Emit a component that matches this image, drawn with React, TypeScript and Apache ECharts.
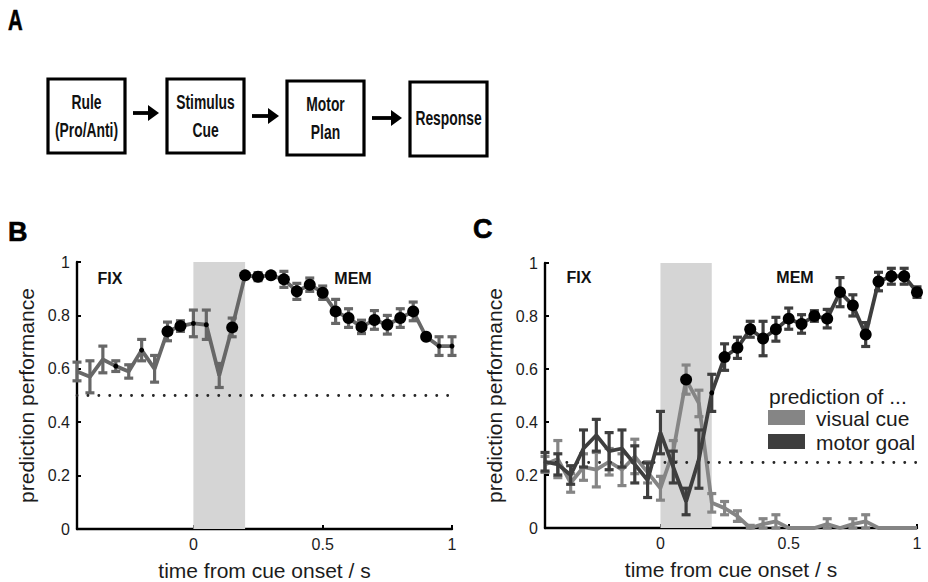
import React, { useEffect, useRef } from "react";
import * as echarts from "echarts";

// ---------- data ----------
const times = [-0.45, -0.4, -0.35, -0.3, -0.25, -0.2, -0.15, -0.1, -0.05, 0, 0.05, 0.1, 0.15, 0.2, 0.25, 0.3, 0.35, 0.4, 0.45, 0.5, 0.55, 0.6, 0.65, 0.7, 0.75, 0.8, 0.85, 0.9, 0.95, 1.0];

// Panel B: rule prediction
const perfB = [0.59, 0.57, 0.635, 0.61, 0.59, 0.67, 0.6, 0.74, 0.76, 0.77, 0.765, 0.575, 0.755, 0.95, 0.945, 0.95, 0.935, 0.89, 0.915, 0.885, 0.815, 0.79, 0.757, 0.783, 0.765, 0.79, 0.815, 0.72, 0.685, 0.685];
const errB = [0.035, 0.06, 0.05, 0.02, 0.025, 0.04, 0.05, 0.035, 0.02, 0.05, 0.055, 0.045, 0.035, 0.0, 0.015, 0.01, 0.03, 0.03, 0.025, 0.025, 0.045, 0.035, 0.025, 0.035, 0.035, 0.035, 0.035, 0.0, 0.035, 0.035];
const sigB = [0, 0, 0, 1, 0, 1, 0, 2, 2, 1, 1, 0, 2, 2, 2, 2, 2, 2, 2, 2, 2, 2, 2, 2, 2, 2, 2, 2, 1, 1];

// Panel C: visual cue vs motor goal prediction
const visualC = [0.24, 0.26, 0.17, 0.23, 0.22, 0.25, 0.22, 0.27, 0.21, 0.15, 0.29, 0.56, 0.47, 0.095, 0.075, 0.045, 0.0, 0.015, 0.025, 0.0, 0.0, 0.0, 0.015, 0.0, 0.015, 0.025, 0.0, 0.0, 0.0, 0.0];
const errVisual = [0.03, 0.07, 0.035, 0.05, 0.065, 0.05, 0.06, 0.065, 0.04, 0.045, 0.04, 0.055, 0.05, 0.035, 0.025, 0.02, 0.01, 0.02, 0.025, 0, 0, 0, 0.02, 0, 0.02, 0.025, 0, 0, 0, 0];
const sigVisual = [0, 0, 0, 0, 0, 0, 0, 0, 0, 0, 0, 2, 0, 0, 0, 0, 0, 0, 0, 0, 0, 0, 0, 0, 0, 0, 0, 0, 0, 0];

const motorC = [0.25, 0.24, 0.2, 0.3, 0.35, 0.29, 0.3, 0.24, 0.18, 0.36, 0.23, 0.1, 0.26, 0.51, 0.645, 0.68, 0.75, 0.715, 0.75, 0.79, 0.77, 0.8, 0.79, 0.89, 0.84, 0.73, 0.93, 0.95, 0.95, 0.89];
const errMotor = [0.035, 0.04, 0.035, 0.07, 0.06, 0.07, 0.07, 0.07, 0.065, 0.08, 0.06, 0.05, 0.11, 0.07, 0.05, 0.04, 0.03, 0.065, 0.045, 0.04, 0.035, 0.02, 0.035, 0.055, 0.04, 0.045, 0.035, 0.03, 0.03, 0.02];
const sigMotor = [0, 0, 0, 0, 0, 0, 0, 0, 0, 0, 0, 0, 0, 1, 2, 2, 2, 2, 2, 2, 2, 2, 2, 2, 2, 2, 2, 2, 2, 2];

const chanceB = 0.5;
const chanceC = 0.25;
const cueWindow = [0, 0.2];
const xTickValues = [0, 0.5, 1];
const epochLabels = ["FIX", "CUE", "MEM"];
const flowSteps = [["Rule", "(Pro/Anti)"], ["Stimulus", "Cue"], ["Motor", "Plan"], ["Response"]];
const legendTitle = "prediction of ...";
const legendNames = ["visual cue", "motor goal"];

// ---------- style ----------
const FONT = '"Liberation Sans", Arial, Helvetica, sans-serif';
const TXT = "#1c1c1c";
const colB = "#676767";
const colVisual = "#858585";
const colMotor = "#3e3e3e";
const dotSizes = [0, 5, 12];

const errRender = (color: string) => (params: any, api: any) => {
  const x = api.value(0);
  const lo = api.value(1);
  const hi = api.value(2);
  if (hi - lo < 1e-6) return { type: "group", children: [] };
  const top = api.coord([x, hi]);
  const bot = api.coord([x, lo]);
  const w = 4.5;
  const style = { stroke: color, lineWidth: 3.2 };
  return {
    type: "group",
    children: [
      { type: "line", shape: { x1: top[0], y1: top[1], x2: bot[0], y2: bot[1] }, style },
      { type: "line", shape: { x1: top[0] - w, y1: top[1], x2: top[0] + w, y2: top[1] }, style },
      { type: "line", shape: { x1: bot[0] - w, y1: bot[1], x2: bot[0] + w, y2: bot[1] }, style },
    ],
  };
};

const errData = (vals: number[], errs: number[]) =>
  times.map((t, i) => [t, Math.max(0, vals[i] - errs[i]), Math.min(1, vals[i] + errs[i])]);

const lineData = (vals: number[], sig: number[]) =>
  times.map((t, i) => ({
    value: [t, vals[i]],
    symbol: sig[i] === 0 ? "none" : "circle",
    symbolSize: dotSizes[sig[i]],
  }));

const makeAxisX = (gridIndex: number) => ({
  type: "value",
  gridIndex,
  min: -0.45,
  max: 1,
  splitLine: { show: false },
  axisLine: { onZero: false, lineStyle: { color: "#000", width: 2.4 } },
  axisTick: { inside: true, length: 4, customValues: xTickValues, lineStyle: { color: "#000", width: 2 } },
  axisLabel: { customValues: xTickValues, fontSize: 16, color: TXT, margin: 7, fontFamily: FONT, formatter: (v: number) => String(v) },
  name: "time from cue onset / s",
  nameLocation: "middle",
  nameGap: 31,
  nameTextStyle: { fontSize: 21, color: TXT, fontFamily: FONT },
});

const makeAxisY = (gridIndex: number) => ({
  type: "value",
  gridIndex,
  min: 0,
  max: 1,
  interval: 0.2,
  splitLine: { show: false },
  axisLine: { onZero: false, lineStyle: { color: "#000", width: 2.4 } },
  axisTick: { inside: true, length: 4, lineStyle: { color: "#000", width: 2 } },
  axisLabel: { fontSize: 16, color: TXT, margin: 7, fontFamily: FONT },
  name: "prediction performance",
  nameLocation: "middle",
  nameGap: 40,
  nameTextStyle: { fontSize: 21, color: TXT, fontFamily: FONT },
});

const shading = {
  silent: true,
  itemStyle: { color: "#d5d5d5" },
  data: [[{ xAxis: cueWindow[0] }, { xAxis: cueWindow[1] }]],
};

const chanceLine = (y: number) => ({
  silent: true,
  symbol: ["none", "none"],
  label: { show: false },
  lineStyle: { color: "#262626", width: 2.8, type: [0.1, 10.8], cap: "round" },
  data: [{ yAxis: y }],
});

const lineSeries = (name: string, idx: number, vals: number[], sig: number[], color: string) => ({
  name,
  type: "line",
  xAxisIndex: idx,
  yAxisIndex: idx,
  data: lineData(vals, sig),
  showSymbol: true,
  showAllSymbol: true,
  lineStyle: { color, width: 3.8 },
  itemStyle: { color: "#000" },
  emphasis: { disabled: true },
  z: 4,
});

const errSeries = (idx: number, vals: number[], errs: number[], color: string, extra: any = {}) => ({
  type: "custom",
  xAxisIndex: idx,
  yAxisIndex: idx,
  renderItem: errRender(color),
  encode: { x: 0, y: [1, 2] },
  data: errData(vals, errs),
  silent: true,
  z: 3,
  ...extra,
});

// ---------- graphic (panel A, letters, annotations, legend) ----------
const boxX = [48, 167, 287, 410];
const boxY = [79, 79, 81, 82];
const boxW = 77;
const boxH = 74;
const arrowY = [113, 116, 118];

function buildGraphic() {
  const g: any[] = [];
  const letter = (t: string, x: number, y: number, sx = 1, fs = 27) =>
    g.push({ type: "text", x, y, scaleX: sx, style: { text: t, fill: "#000", fontSize: fs, fontWeight: 900, fontFamily: FONT, align: "left", verticalAlign: "middle", stroke: "#000", lineWidth: 0.6 } });
  letter("A", 8, 20, 0.7, 29);
  letter("B", 8, 232);
  letter("C", 473, 229);

  flowSteps.forEach((lines, i) => {
    g.push({ type: "rect", shape: { x: boxX[i], y: boxY[i], width: boxW, height: boxH }, style: { fill: "#fff", stroke: "#000", lineWidth: 3.2 } });
    const cx = boxX[i] + boxW / 2;
    const ys = lines.length === 1 ? [boxY[i] + 36] : [boxY[i] + 23, boxY[i] + 51];
    lines.forEach((ln, j) => {
      g.push({ type: "text", x: cx, y: ys[j], scaleX: 0.66, style: { text: ln, fill: "#111", fontSize: 21, fontWeight: "bold", fontFamily: FONT, align: "center", verticalAlign: "middle" } });
    });
    if (i < flowSteps.length - 1) {
      const x1 = boxX[i] + boxW + 8;
      const x2 = boxX[i + 1] - 8;
      const y = arrowY[i];
      g.push({ type: "line", shape: { x1, y1: y, x2: x2 - 8, y2: y }, style: { stroke: "#000", lineWidth: 3.8 } });
      g.push({ type: "polygon", shape: { points: [[x2 - 11, y - 8], [x2, y], [x2 - 11, y + 8]] }, style: { fill: "#000" } });
    }
  });

  const epoch = (t: string, x: number, y: number) =>
    g.push({ type: "text", x, y, style: { text: t, fill: "#111", fontSize: 16, fontWeight: "bold", fontFamily: FONT, align: "center", verticalAlign: "middle" } });
  const epochB = [110, 217, 353];
  const epochC = [579, 684, 795];
  epochLabels.forEach((t, i) => {
    epoch(t, epochB[i], 278);
    epoch(t, epochC[i], 277);
  });

  g.push({ type: "text", x: 769, y: 396, style: { text: legendTitle, fill: TXT, fontSize: 21, fontFamily: FONT, align: "left", verticalAlign: "middle" } });
  const legColors = [colVisual, colMotor];
  legendNames.forEach((n, i) => {
    const y = 418 + i * 24;
    g.push({ type: "rect", shape: { x: 768, y: y - 8, width: 37, height: 15 }, style: { fill: legColors[i] } });
    g.push({ type: "text", x: 816, y, style: { text: n, fill: TXT, fontSize: 21, fontFamily: FONT, align: "left", verticalAlign: "middle" } });
  });
  return g;
}

export default function App() {
  const ref = useRef<HTMLDivElement>(null);
  useEffect(() => {
    if (!ref.current) return;
    const chart = echarts.init(ref.current, undefined, { renderer: "svg" });
    chart.setOption({
      animation: false,
      backgroundColor: "#fff",
      textStyle: { fontFamily: FONT },
      grid: [
        { left: 77, top: 262, width: 375, height: 267 },
        { left: 545, top: 263, width: 372, height: 265 },
      ],
      xAxis: [makeAxisX(0), makeAxisX(1)],
      yAxis: [makeAxisY(0), makeAxisY(1)],
      series: [
        errSeries(0, perfB, errB, colB, { markArea: shading, markLine: chanceLine(chanceB) }),
        lineSeries("rule", 0, perfB, sigB, colB),
        errSeries(1, visualC, errVisual, colVisual, { markArea: shading, markLine: chanceLine(chanceC) }),
        lineSeries(legendNames[0], 1, visualC, sigVisual, colVisual),
        errSeries(1, motorC, errMotor, colMotor, { z: 5 }),
        { ...lineSeries(legendNames[1], 1, motorC, sigMotor, colMotor), z: 6 },
      ],
      graphic: buildGraphic(),
    });
    return () => chart.dispose();
  }, []);
  return <div ref={ref} style={{ position: "fixed", left: 0, top: 0, width: 928, height: 582 }} />;
}
